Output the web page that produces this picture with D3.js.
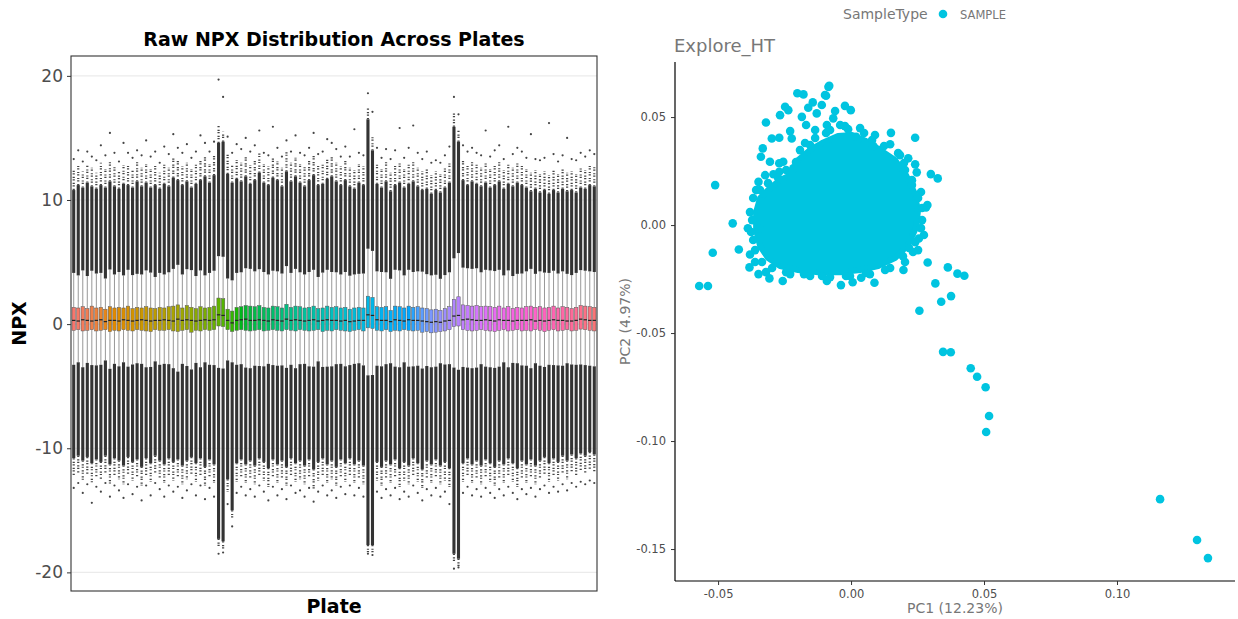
<!DOCTYPE html>
<html><head><meta charset="utf-8">
<script src="https://cdn.jsdelivr.net/npm/d3@7"></script>
<style>body{margin:0;background:#fff}svg{display:block}text{font-family:"DejaVu Sans",sans-serif}</style>
</head><body><svg id="c" width="1238" height="619"></svg>
<script>
// ---------- Left panel data: per-plate box statistics (NPX) ----------
const q3 = [1.35,1.30,1.40,1.25,1.45,1.30,1.35,1.20,1.40,1.30, 1.35,1.30,1.45,1.25,1.35,1.30,1.40,1.30,1.25,1.35,
 1.30,1.40,1.45,1.55,1.30,1.50,1.35,1.25,1.40,1.30, 1.35,1.45,2.10,2.05,1.20,1.05,1.35,1.40,1.50,1.45,
 1.40,1.50,1.35,1.30,1.45,1.40,1.30,1.60,1.35,1.45, 1.40,1.30,1.35,1.45,1.25,1.30,1.45,1.35,1.40,1.30,
 1.35,1.20,1.30,1.35,1.30,2.25,2.15,1.40,1.35,1.40, 1.10,1.45,1.40,1.30,1.45,1.35,1.40,1.30,1.25,1.15,
 1.20,1.10,1.25,1.40,2.00,2.20,1.55,1.50,1.45,1.50, 1.40,1.45,1.40,1.35,1.45,1.30,1.40,1.25,1.35,1.30,
 1.40,1.45,1.35,1.40,1.30,1.35,1.45,1.30,1.40,1.35, 1.25,1.35,1.50,1.45,1.40,1.35];
const q1 = [-0.50,-0.45,-0.55,-0.50,-0.45,-0.55,-0.50,-0.45,-0.60,-0.50, -0.55,-0.45,-0.50,-0.55,-0.45,-0.50,-0.55,-0.60,-0.45,-0.50,
 -0.50,-0.45,-0.55,-0.60,-0.50,-0.45,-0.65,-0.50,-0.55,-0.45, -0.50,-0.45,-0.15,-0.20,-0.45,-0.60,-0.50,-0.45,-0.50,-0.55,
 -0.50,-0.45,-0.55,-0.50,-0.45,-0.50,-0.55,-0.45,-0.50,-0.55, -0.45,-0.50,-0.55,-0.50,-0.45,-0.60,-0.50,-0.55,-0.45,-0.50,
 -0.55,-0.60,-0.50,-0.45,-0.55,-0.30,-0.35,-0.50,-0.55,-0.45, -0.60,-0.50,-0.55,-0.45,-0.50,-0.55,-0.50,-0.65,-0.60,-0.70,
 -0.65,-0.60,-0.55,-0.45,-0.20,-0.15,-0.45,-0.50,-0.55,-0.50, -0.45,-0.50,-0.55,-0.60,-0.50,-0.45,-0.55,-0.50,-0.45,-0.55,
 -0.50,-0.55,-0.45,-0.50,-0.60,-0.50,-0.45,-0.55,-0.50,-0.45, -0.55,-0.50,-0.40,-0.45,-0.50,-0.55];
const med = [0.30,0.25,0.35,0.30,0.25,0.30,0.35,0.20,0.30,0.30, 0.25,0.35,0.30,0.25,0.30,0.35,0.30,0.25,0.30,0.30,
 0.35,0.30,0.25,0.40,0.30,0.35,0.30,0.25,0.30,0.35, 0.30,0.35,0.75,0.70,0.30,0.10,0.30,0.35,0.40,0.30,
 0.30,0.35,0.30,0.25,0.35,0.30,0.25,0.40,0.30,0.35, 0.30,0.25,0.30,0.35,0.25,0.30,0.35,0.30,0.30,0.25,
 0.30,0.20,0.25,0.30,0.30,0.75,0.70,0.35,0.30,0.30, 0.20,0.35,0.30,0.25,0.35,0.30,0.30,0.25,0.20,0.15,
 0.20,0.15,0.25,0.30,0.65,0.70,0.35,0.40,0.35,0.30, 0.30,0.35,0.30,0.25,0.35,0.30,0.30,0.25,0.30,0.30,
 0.30,0.35,0.25,0.30,0.25,0.30,0.35,0.30,0.30,0.25, 0.25,0.30,0.40,0.35,0.30,0.30];
// upper outliers: top of dense column, top of speckled zone, highest single point
const hiDense = [10.8,11.2,11.0,11.4,11.1,10.9,11.2,11.0,11.5,11.1, 10.9,11.3,11.2,11.0,11.5,11.1,11.4,11.0,11.2,10.9,
 11.3,11.1,11.8,11.6,11.2,11.5,11.0,11.3,11.6,11.9, 11.4,12.0,14.6,14.7,12.1,11.4,11.7,11.5,11.9,11.3,
 11.6,12.2,11.4,11.2,11.8,11.6,11.1,12.3,11.5,11.9, 11.4,11.1,11.6,12.0,11.2,11.3,11.7,11.9,11.5,11.2,
 11.6,11.1,10.9,11.4,11.2,16.5,14.0,11.3,11.0,11.5, 10.7,11.2,11.4,11.0,11.3,11.5,11.1,10.8,10.9,10.5,
 10.8,10.6,11.0,11.4,15.9,14.7,11.6,11.2,11.5,11.3, 11.1,11.4,11.0,11.2,11.5,10.9,11.3,11.1,11.4,11.2,
 11.0,10.7,10.9,10.6,10.8,10.5,10.8,10.6,10.9,10.7, 10.8,10.6,11.0,10.9,11.2,11.1];
const hiSpeck = [12.4,12.9,12.3,12.8,12.6,12.2,13.0,12.5,13.1,12.7, 12.3,12.8,12.9,12.4,13.2,12.6,12.9,12.5,12.8,12.2,
 12.9,12.6,13.4,13.3,12.7,13.0,12.5,12.9,13.2,13.6, 12.9,13.6,16.0,15.5,13.8,12.8,13.2,13.0,13.5,12.8,
 13.2,13.9,12.9,12.7,13.4,13.1,12.6,13.9,13.0,13.4, 12.9,12.7,13.2,13.6,12.8,12.9,13.3,13.5,13.0,12.7,
 13.2,12.6,12.4,12.9,12.7,17.4,15.2,12.9,12.5,13.1, 12.2,12.8,13.0,12.5,12.9,13.1,12.6,12.3,12.5,12.0,
 12.3,12.1,12.6,13.0,17.0,15.6,13.2,12.8,13.1,12.9, 12.6,13.0,12.5,12.8,13.1,12.4,12.9,12.6,13.0,12.8,
 12.5,12.2,12.4,12.1,12.3,12.0,12.4,12.1,12.5,12.2, 12.3,12.1,12.6,12.4,12.8,12.7];
const hiMax = [13.3,14.0,13.1,13.9,13.5,13.2,14.4,13.6,15.4,13.8, 13.1,14.6,13.8,13.4,14.0,13.6,14.8,13.5,13.9,13.0,
 14.3,13.7,15.3,14.2,13.8,14.5,13.4,13.9,15.2,14.6, 13.9,14.7,19.7,18.3,15.1,13.8,14.5,14.1,15.0,13.9,
 14.4,15.6,13.8,13.6,15.9,14.2,13.5,14.8,13.9,15.2, 13.8,13.6,14.2,15.4,13.7,13.9,14.9,14.6,14.1,13.5,
 14.3,13.5,15.7,13.8,13.6,18.6,17.1,14.2,13.4,14.1, 13.3,14.0,15.8,13.4,14.2,16.0,13.8,13.3,13.9,13.0,
 13.2,13.0,13.6,14.3,18.3,16.9,14.4,13.9,14.2,13.8, 13.6,15.6,13.5,14.0,14.4,13.3,15.9,13.7,14.2,13.9,
 13.4,15.3,13.3,13.2,13.4,16.2,13.7,13.1,13.6,15.0, 13.3,13.2,13.8,13.5,14.0,13.7];
// lower outliers: bottom of dense column, bottom of speckled zone, lowest single point
const loDense = [-10.8,-10.6,-11.0,-10.7,-11.2,-10.9,-11.1,-10.6,-11.3,-10.8, -11.0,-11.4,-10.7,-11.1,-10.9,-11.5,-10.8,-11.2,-10.6,-11.0,
 -11.3,-10.8,-11.1,-10.9,-11.4,-11.0,-10.7,-11.2,-10.8,-11.5, -10.9,-11.3,-17.3,-17.5,-12.5,-15.0,-11.2,-10.9,-11.3,-11.0,
 -11.4,-10.8,-11.1,-11.6,-10.9,-11.3,-11.0,-11.5,-10.8,-11.2, -11.0,-11.4,-10.9,-11.7,-11.1,-10.8,-11.3,-11.0,-11.5,-10.9,
 -11.2,-10.8,-11.3,-11.0,-11.4,-17.8,-17.8,-11.1,-11.5,-11.0, -11.3,-10.9,-11.6,-11.1,-11.4,-10.8,-11.2,-11.7,-11.0,-11.3,
 -10.9,-11.4,-11.1,-11.6,-18.5,-18.9,-11.2,-10.8,-11.3,-11.0, -11.4,-10.9,-11.2,-11.5,-11.0,-11.3,-10.8,-11.2,-11.6,-11.0,
 -11.3,-10.9,-11.4,-11.0,-10.7,-11.2,-10.8,-11.1,-10.6,-11.0, -10.5,-10.8,-10.4,-10.6,-10.3,-10.5];
const loSpeck = [-12.2,-12.0,-12.6,-12.1,-12.8,-12.3,-12.5,-12.0,-12.9,-12.2, -12.5,-12.9,-12.1,-12.6,-12.3,-13.0,-12.2,-12.7,-12.0,-12.4,
 -12.8,-12.2,-12.6,-12.3,-12.9,-12.5,-12.1,-12.7,-12.2,-13.0, -12.3,-12.8,-17.9,-18.1,-13.5,-15.6,-12.7,-12.3,-12.8,-12.4,
 -12.9,-12.2,-12.6,-13.1,-12.3,-12.8,-12.4,-13.0,-12.2,-12.7, -12.5,-12.9,-12.3,-13.3,-12.6,-12.2,-12.8,-12.5,-13.0,-12.3,
 -12.7,-12.2,-12.8,-12.4,-12.9,-18.4,-18.5,-12.6,-13.0,-12.4, -12.8,-12.3,-13.1,-12.6,-12.9,-12.2,-12.7,-13.2,-12.4,-12.8,
 -12.3,-12.9,-12.6,-13.1,-19.2,-19.6,-12.7,-12.2,-12.8,-12.4, -12.9,-12.3,-12.7,-13.0,-12.4,-12.8,-12.2,-12.7,-13.1,-12.4,
 -12.8,-12.3,-12.9,-12.4,-12.1,-12.7,-12.2,-12.6,-12.0,-12.5, -11.9,-12.2,-11.8,-12.0,-11.7,-11.9];
const loMin = [-13.2,-12.8,-13.6,-12.9,-14.4,-13.1,-13.5,-12.8,-13.9,-13.0, -13.4,-14.0,-12.9,-13.7,-13.1,-14.2,-13.0,-13.8,-12.8,-13.3,
 -13.9,-13.0,-13.5,-13.1,-14.0,-13.4,-12.9,-13.8,-13.0,-14.1, -13.2,-13.9,-18.5,-18.4,-14.5,-16.3,-13.6,-13.1,-13.8,-13.3,
 -13.9,-13.0,-13.5,-14.2,-13.1,-13.8,-13.3,-14.1,-13.0,-13.6, -13.4,-13.9,-13.2,-14.3,-13.5,-13.0,-13.8,-13.4,-14.0,-13.1,
 -13.7,-13.0,-13.8,-13.2,-13.9,-18.5,-18.6,-13.5,-14.0,-13.3, -13.8,-13.2,-14.1,-13.5,-13.9,-13.0,-13.6,-14.2,-13.3,-13.8,
 -13.2,-13.9,-13.5,-14.5,-19.7,-19.6,-13.6,-13.1,-13.8,-13.3, -13.9,-13.2,-13.6,-14.0,-13.3,-13.8,-13.1,-13.6,-14.1,-13.3,
 -13.7,-13.2,-13.9,-13.3,-13.0,-13.6,-13.1,-13.5,-12.9,-13.4, -12.8,-13.1,-12.7,-12.9,-12.6,-12.8];
const plates = q3.map((_, i) => "Plate " + (i + 1));
const npxTicks = [-20, -10, 0, 10, 20];

// ---------- Right panel data: PCA ----------
const pc1Ticks = [-0.05, 0.00, 0.05, 0.10];
const pc2Ticks = [-0.15, -0.10, -0.05, 0.00, 0.05];
// outline of the dense, fully overlapping core of sample points
const coreHull = [[-0.0229,0.0231],[-0.0199,0.0301],[-0.0154,0.0347],[-0.0109,0.0380],[-0.0049,0.0412],[0.0004,0.0417],
 [0.0056,0.0389],[0.0109,0.0347],[0.0165,0.0301],[0.0207,0.0231],[0.0237,0.0153],[0.0252,0.0069],[0.0244,-0.0014],
 [0.0214,-0.0093],[0.0165,-0.0153],[0.0102,-0.0190],[0.0034,-0.0208],[-0.0041,-0.0218],[-0.0124,-0.0218],[-0.0199,-0.0208],
 [-0.0267,-0.0190],[-0.0312,-0.0153],[-0.0342,-0.0097],[-0.0357,-0.0023],[-0.0357,0.0060],[-0.0342,0.0125],
 [-0.0305,0.0171],[-0.0267,0.0208]];
const pc1 = [0.1162,0.1301,0.1342,0.0508,0.0519,0.0506,0.0474,0.0450,0.0346,0.0375,0.0257,0.0339,0.0376,0.0317,0.0288,0.0364,
 0.0400,0.0426,0.0197,0.0088,0.0038,0.0006,-0.0038,-0.0091,0.0255,0.0218,0.0282,0.0247,0.0263,
 -0.0571,-0.0538,-0.0520,-0.0445,-0.0388,-0.0422,-0.0380,-0.0382,-0.0348,-0.0307,-0.0257,-0.0342,-0.0336,-0.0511,-0.0361,-0.0320,
 -0.0320,-0.0202,-0.0179,-0.0248,-0.0236,-0.0267,-0.0161,-0.0144,-0.0098,-0.0085,-0.0298,-0.0270,-0.0229,-0.0223,-0.0185,-0.0129,
 -0.0332,-0.0339,-0.0305,-0.0270,-0.0255,-0.0348,-0.0323,-0.0292,-0.0270,-0.0217,-0.0192,-0.0154,-0.0169,-0.0135,
 -0.0082,-0.0094,-0.0110,-0.0023,-0.0001,-0.0060,0.0150,0.0241,0.0147,0.0215,0.0241,0.0247,0.0300,0.0326,0.0287,
 0.0019,0.0053,0.0084,-0.0067,-0.0091,-0.0041,0.0109,0.0184,0.0203,0.0229,
 -0.0229,-0.0154,-0.0079,-0.0004,0.0071,0.0147,0.0203,0.0267,0.0274,0.0252,-0.0023,0.0034,0.0090,-0.0079,-0.0372,-0.0368,-0.0357,
 -0.0173,-0.0135,-0.0094,-0.0011,0.0049,0.0079,0.0124,0.0177,0.0199,0.0229,0.0252,0.0267,0.0263,0.0241,0.0195,0.0233,
 0.0128,0.0056,-0.0019,-0.0109,-0.0177,-0.0244,-0.0297,-0.0335,-0.0361,-0.0376,-0.0380,-0.0368,-0.0342,-0.0312,-0.0274,-0.0244,-0.0207];
const pc2 = [-0.1269,-0.1458,-0.1542,-0.0958,-0.0884,-0.0751,-0.0702,-0.0663,-0.0587,-0.0589,-0.0397,-0.0355,-0.0329,-0.0270,-0.0173,-0.0196,
 -0.0225,-0.0235,-0.0208,-0.0267,-0.0244,-0.0265,-0.0278,-0.0259,-0.0062,-0.0106,0.0082,0.0124,0.0153,
 -0.0282,-0.0282,-0.0128,0.0008,-0.0015,-0.0113,-0.0136,-0.0196,-0.0227,-0.0247,-0.0259,-0.0015,0.0108,0.0185,-0.0171,-0.0218,
 0.0475,0.0610,0.0605,0.0548,0.0532,0.0509,0.0543,0.0568,0.0602,0.0640,0.0401,0.0404,0.0435,0.0401,0.0501,0.0517,
 0.0355,0.0316,0.0293,0.0286,0.0293,0.0200,0.0231,0.0235,0.0247,0.0263,0.0347,0.0370,0.0463,0.0440,
 0.0645,0.0599,0.0556,0.0552,0.0532,0.0528,0.0427,0.0404,0.0374,0.0309,0.0281,0.0244,0.0236,0.0216,0.0093,
 0.0409,0.0378,0.0366,0.0494,0.0463,0.0463,0.0347,0.0324,0.0255,0.0185,
 -0.0227,-0.0236,-0.0241,-0.0236,-0.0227,-0.0199,-0.0171,0.0023,-0.0046,-0.0116,0.0458,0.0449,0.0417,0.0440,0.0023,-0.0069,0.0162,
 0.0380,0.0403,0.0426,0.0444,0.0426,0.0394,0.0366,0.0333,0.0287,0.0208,0.0125,0.0079,-0.0014,-0.0079,-0.0144,-0.0125,
 -0.0208,-0.0222,-0.0236,-0.0236,-0.0227,-0.0218,-0.0199,-0.0171,-0.0116,-0.0032,0.0060,0.0125,0.0162,0.0194,0.0218,0.0255,0.0292];

// ---------- helpers ----------
function hueColor(h, c, l) { // polar LUV (as in R's hcl) -> sRGB
  const hr = h * Math.PI / 180, U = c * Math.cos(hr), V = c * Math.sin(hr);
  const Xn = 95.047, Yn = 100, Zn = 108.883;
  const den = Xn + 15 * Yn + 3 * Zn, un = 4 * Xn / den, vn = 9 * Yn / den;
  const Y = l > 8 ? Yn * Math.pow((l + 16) / 116, 3) : Yn * l / 903.3;
  const u = U / (13 * l) + un, v = V / (13 * l) + vn;
  const X = Y * 9 * u / (4 * v), Z = Y * (12 - 3 * u - 20 * v) / (4 * v);
  const x = X / 100, y = Y / 100, z = Z / 100;
  const lin = [3.240479 * x - 1.537150 * y - 0.498535 * z, -0.969256 * x + 1.875992 * y + 0.041556 * z, 0.055648 * x - 0.204043 * y + 1.057311 * z];
  const g = lin.map(t => { t = t <= 0.0031308 ? 12.92 * t : 1.055 * Math.pow(t, 1 / 2.4) - 0.055; return Math.round(Math.max(0, Math.min(1, t)) * 255); });
  return d3.rgb(g[0], g[1], g[2]).formatHex();
}

const svg = d3.select("#c");

// ================= LEFT: boxplots =================
const L = {x0: 71, x1: 597, y0: 56, y1: 591};
const x = d3.scalePoint().domain(plates).range([L.x0, L.x1]).padding(0.6);
const y = d3.scaleLinear().domain([-21.5, 21.6]).range([L.y1, L.y0]);
const n = plates.length;
const color = d3.scaleOrdinal().domain(plates).range(plates.map((_, i) => hueColor(15 + 360 * i / n, 100, 65)));
const step = x.step(), bw = step * 0.75, ow = 3.1;

const gl = svg.append("g");
gl.append("g").selectAll("line").data(npxTicks).join("line")
  .attr("x1", L.x0).attr("x2", L.x1).attr("y1", d => y(d)).attr("y2", d => y(d))
  .attr("stroke", "#ebebeb").attr("stroke-width", 1.1);

const rows = plates.map((p, i) => {
  const iqr = q3[i] - q1[i];
  return {p, i, q1: q1[i], q3: q3[i], med: med[i], fHi: q3[i] + 1.5 * iqr, fLo: q1[i] - 1.5 * iqr,
    hiDense: hiDense[i], hiSpeck: hiSpeck[i], hiMax: hiMax[i], loDense: loDense[i], loSpeck: loSpeck[i], loMin: loMin[i]};
});
const gb = gl.append("g");
const grp = gb.selectAll("g").data(rows).join("g").attr("transform", d => `translate(${x(d.p)},0)`);
// whiskers
grp.append("line").attr("y1", d => y(d.q3)).attr("y2", d => y(d.fHi)).attr("stroke", "#8c8c8c").attr("stroke-width", 0.9);
grp.append("line").attr("y1", d => y(d.q1)).attr("y2", d => y(d.fLo)).attr("stroke", "#8c8c8c").attr("stroke-width", 0.9);
// dense outlier columns
grp.append("rect").attr("x", -ow / 2).attr("width", ow).attr("y", d => y(d.hiDense)).attr("height", d => y(d.fHi) - y(d.hiDense)).attr("fill", "#333");
grp.append("rect").attr("x", -ow / 2).attr("width", ow).attr("y", d => y(d.fLo)).attr("height", d => y(d.loDense) - y(d.fLo)).attr("fill", "#333");
// speckled outlier zones
grp.append("line").attr("y1", d => y(d.hiDense)).attr("y2", d => y(d.hiSpeck)).attr("stroke", "#444").attr("stroke-width", 2.2).attr("stroke-dasharray", "1.2,2.4,1.2,1.2");
grp.append("line").attr("y1", d => y(d.loDense)).attr("y2", d => y(d.loSpeck)).attr("stroke", "#444").attr("stroke-width", 2.2).attr("stroke-dasharray", "1.2,2.4,1.2,1.2");
// extreme outlier points
grp.append("circle").attr("cy", d => y(d.hiMax)).attr("r", 1.1).attr("fill", "#444");
grp.append("circle").attr("cy", d => y(d.loMin)).attr("r", 1.1).attr("fill", "#444");
// boxes
grp.append("rect").attr("x", -bw / 2).attr("width", bw).attr("y", d => y(d.q3)).attr("height", d => y(d.q1) - y(d.q3))
  .attr("fill", d => color(d.p)).attr("stroke", "#555").attr("stroke-width", 0.5);
grp.append("line").attr("x1", -bw / 2).attr("x2", bw / 2).attr("y1", d => y(d.med)).attr("y2", d => y(d.med)).attr("stroke", "#222").attr("stroke-width", 1.2);

// panel border
gl.append("rect").attr("x", L.x0).attr("y", L.y0).attr("width", L.x1 - L.x0).attr("height", L.y1 - L.y0)
  .attr("fill", "none").attr("stroke", "#333").attr("stroke-width", 1.1);
// y axis
const ay = gl.append("g").attr("transform", `translate(${L.x0},0)`)
  .call(d3.axisLeft(y).tickValues(npxTicks).tickFormat(d => String(d)).tickSize(4).tickPadding(4));
ay.select(".domain").remove();
ay.selectAll(".tick line").attr("stroke", "#333");
ay.selectAll(".tick text").attr("fill", "#4d4d4d").style("font-size", "17px").style("font-family", "DejaVu Sans");
gl.append("text").attr("x", (L.x0 + L.x1) / 2).attr("y", 46).attr("text-anchor", "middle")
  .style("font-weight", "bold").style("font-size", "19px").text("Raw NPX Distribution Across Plates");
gl.append("text").attr("transform", `translate(26,${(L.y0 + L.y1) / 2}) rotate(-90)`).attr("text-anchor", "middle")
  .style("font-weight", "bold").style("font-size", "19px").text("NPX");
gl.append("text").attr("x", (L.x0 + L.x1) / 2).attr("y", 613).attr("text-anchor", "middle")
  .style("font-weight", "bold").style("font-size", "19px").text("Plate");

// ================= RIGHT: PCA =================
const R = {x0: 675, x1: 1238, y0: 62, y1: 581};
const px = d3.scaleLinear().domain([-0.0662, 0.1455]).range([R.x0, R.x1]);
const py = d3.scaleLinear().domain([-0.1648, 0.0755]).range([R.y1, R.y0]);
const ptCol = "#00C4E0";
const gr = svg.append("g");
gr.append("path").datum(coreHull)
  .attr("d", d3.line().x(d => px(d[0])).y(d => py(d[1])).curve(d3.curveLinearClosed))
  .attr("fill", ptCol).attr("stroke", ptCol).attr("stroke-width", 6).attr("stroke-linejoin", "round");
gr.append("g").selectAll("circle").data(pc1.map((v, i) => [v, pc2[i]])).join("circle")
  .attr("cx", d => px(d[0])).attr("cy", d => py(d[1])).attr("r", 4.3).attr("fill", ptCol);

const axX = gr.append("g").attr("transform", `translate(0,${R.y1})`)
  .call(d3.axisBottom(px).tickValues(pc1Ticks).tickFormat(d => d.toFixed(2)).tickSize(4).tickPadding(5));
const axY = gr.append("g").attr("transform", `translate(${R.x0},0)`)
  .call(d3.axisLeft(py).tickValues(pc2Ticks).tickFormat(d => d.toFixed(2)).tickSize(4).tickPadding(5));
[axX, axY].forEach(a => {
  a.select(".domain").attr("stroke", "#000").attr("stroke-width", 1.2);
  a.selectAll(".tick line").attr("stroke", "#333");
  a.selectAll(".tick text").attr("fill", "#4d4d4d").style("font-size", "11.5px").style("font-family", "DejaVu Sans");
});
axX.select(".domain").attr("d", `M${R.x0},0H${R.x1 - 3}`);
axY.select(".domain").attr("d", `M0,${R.y0}V${R.y1}`);

gr.append("text").attr("x", 955).attr("y", 613).attr("text-anchor", "middle").attr("fill", "#777")
  .style("font-size", "14px").text("PC1 (12.23%)");
gr.append("text").attr("transform", `translate(630,${(R.y0 + R.y1) / 2}) rotate(-90)`).attr("text-anchor", "middle").attr("fill", "#777")
  .style("font-size", "14px").text("PC2 (4.97%)");
gr.append("text").attr("x", 674).attr("y", 52).attr("fill", "#777").style("font-size", "18px").text("Explore_HT");
// legend
gr.append("text").attr("x", 843).attr("y", 19).attr("fill", "#777").style("font-size", "14px").text("SampleType");
gr.append("circle").attr("cx", 943).attr("cy", 14).attr("r", 4.3).attr("fill", ptCol);
gr.append("text").attr("x", 960).attr("y", 18.5).attr("fill", "#777").style("font-size", "11.5px").text("SAMPLE");
</script></body></html>
